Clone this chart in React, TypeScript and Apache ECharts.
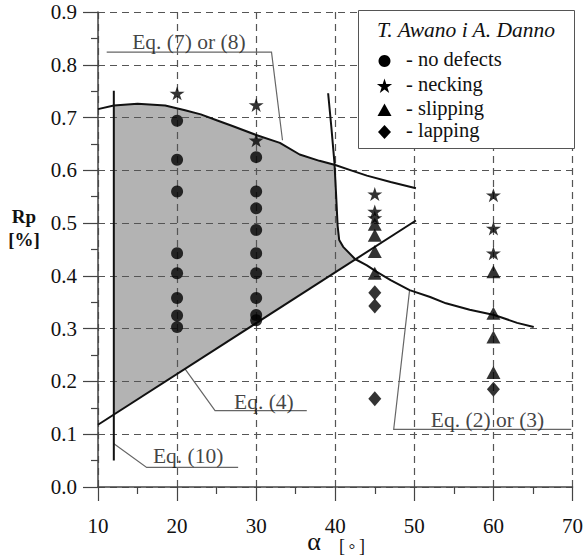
import React, { useEffect, useRef } from "react";
import * as echarts from "echarts";

// ---- data (alpha [deg], Rp [%]) ----
const noDefects: number[][] = [
  [20, 0.694], [20, 0.62], [20, 0.56], [20, 0.443], [20, 0.405], [20, 0.358], [20, 0.325], [20, 0.303],
  [30, 0.625], [30, 0.56], [30, 0.528], [30, 0.487], [30, 0.443], [30, 0.405], [30, 0.358], [30, 0.326], [30, 0.316],
];
const necking: number[][] = [
  [20, 0.746], [30, 0.724], [30, 0.657], [45, 0.555], [45, 0.522], [45, 0.51], [60, 0.553], [60, 0.49], [60, 0.443],
];
const slipping: number[][] = [
  [45, 0.498], [45, 0.477], [45, 0.446], [45, 0.405], [60, 0.408], [60, 0.329], [60, 0.284], [60, 0.217],
];
const lapping: number[][] = [[45, 0.368], [45, 0.343], [45, 0.167], [60, 0.185]];

// Eq. (7) or (8) limit curve
const eq78Alpha = [10, 12, 15, 18.5, 21, 23, 25, 27, 30, 33, 35.5, 38, 40, 42, 44, 47, 50.2];
const eq78Rp = [0.716, 0.723, 0.726, 0.723, 0.714, 0.706, 0.695, 0.684, 0.667, 0.652, 0.63, 0.618, 0.61, 0.6, 0.59, 0.578, 0.566];
// Eq. (2) or (3) limit curve
const eq23Alpha = [39.1, 39.5, 39.9, 40.1, 40.3, 40.5, 41.0, 42.5, 44, 45.2, 47, 49.4, 52, 54, 57, 60.1, 63, 65.1];
const eq23Rp = [0.746, 0.683, 0.614, 0.556, 0.495, 0.468, 0.455, 0.432, 0.42, 0.408, 0.392, 0.373, 0.36, 0.348, 0.336, 0.326, 0.311, 0.303];
// Eq. (4) straight line
const eq4Line: number[][] = [[10, 0.118], [50.2, 0.505]];
// Eq. (10) vertical line
const eq10Line: number[][] = [[12, 0.05], [12, 0.751]];
// shaded (no-defect) region boundary
const shadedRegion: number[][] = [
  [12, 0.137], [12, 0.723], [15, 0.726], [18.5, 0.723], [21, 0.714], [23, 0.706], [25, 0.695], [27, 0.684],
  [30, 0.667], [33, 0.652], [35.5, 0.63], [38, 0.618], [39.9, 0.612], [40.1, 0.556], [40.3, 0.495],
  [40.5, 0.468], [41.0, 0.455], [42.5, 0.432],
];
// annotation leaders and texts
const leaders: number[][][] = [
  [[11.1, 0.824], [31.94, 0.824], [33.33, 0.657]],
  [[36.4, 0.1446], [24.8, 0.1446], [21.0, 0.224]],
  [[27.72, 0.037], [16.15, 0.037], [11.93, 0.083]],
  [[69.83, 0.109], [47.39, 0.109], [49.4, 0.373]],
];
const annotations = [
  { name: "Eq. (7) or (8)", value: [21.49, 0.843] },
  { name: "Eq. (4)", value: [30.97, 0.161] },
  { name: "Eq. (10)", value: [21.4, 0.059] },
  { name: "Eq. (2) or (3)", value: [59.26, 0.127] },
];
const legendTitle = "T. Awano i A. Danno";
const legendLabels = ["- no defects", "- necking", "- slipping", "- lapping"];

const FONT = "Liberation Serif, DejaVu Serif, serif";
const STAR = "path://M50 0 L61.23 34.55 L97.55 34.55 L68.17 55.9 L79.39 90.45 L50 69.1 L20.61 90.45 L31.83 55.9 L2.45 34.55 L38.77 34.55 Z";

function starPoints(cx: number, cy: number, R: number): number[][] {
  const pts: number[][] = [];
  for (let i = 0; i < 10; i++) {
    const r = i % 2 === 0 ? R : R * 0.382;
    const a = -Math.PI / 2 + (i * Math.PI) / 5;
    pts.push([cx + r * Math.cos(a), cy + r * Math.sin(a)]);
  }
  return pts;
}

export default function App() {
  const ref = useRef<HTMLDivElement>(null);
  useEffect(() => {
    const chart = echarts.init(ref.current!, null, { renderer: "svg" });
    const zip = (a: number[], b: number[]) => a.map((x, i) => [x, b[i]]);
    const curve = (data: number[][]) => ({
      type: "line",
      data,
      showSymbol: false,
      symbol: "none",
      silent: true,
      z: 3,
      lineStyle: { color: "#111", width: 2 },
    });
    const txt = (size: number, extra: any = {}) => ({ fontFamily: FONT, fontSize: size, fill: "#111", ...extra });
    const legendX = 384.5;
    const rowsY = [61, 86, 110, 132];
    const legendGraphics: any[] = [
      { type: "rect", shape: { x: 358.5, y: 10.5, width: 216, height: 138 }, style: { fill: "#fff", stroke: "#555", lineWidth: 1 }, z: 10 },
      { type: "text", x: 377, y: 30, style: { text: legendTitle, ...txt(21.5, { fontStyle: "italic", verticalAlign: "middle" }) }, z: 11 },
      { type: "circle", shape: { cx: legendX, cy: rowsY[0], r: 6 }, style: { fill: "#000" }, z: 11 },
      { type: "polygon", shape: { points: starPoints(legendX, rowsY[1] + 0.5, 8) }, style: { fill: "#000" }, z: 11 },
      { type: "polygon", shape: { points: [[legendX, rowsY[2] - 6.5], [legendX + 7, rowsY[2] + 6], [legendX - 7, rowsY[2] + 6]] }, style: { fill: "#000" }, z: 11 },
      { type: "polygon", shape: { points: [[legendX, rowsY[3] - 7], [legendX + 6.5, rowsY[3]], [legendX, rowsY[3] + 7], [legendX - 6.5, rowsY[3]]] }, style: { fill: "#000" }, z: 11 },
    ];
    legendLabels.forEach((t, i) => {
      legendGraphics.push({
        type: "text", x: 406, y: rowsY[i] - 2,
        style: { text: t, ...txt(20.5, { verticalAlign: "middle" }) }, z: 11,
      });
    });
    const axisNameGraphics: any[] = [
      { type: "text", x: 24, y: 216, style: { text: "Rp", ...txt(19, { fontWeight: "bold", align: "center", verticalAlign: "middle" }) } },
      { type: "text", x: 24, y: 239, style: { text: "[%]", ...txt(19, { fontWeight: "bold", align: "center", verticalAlign: "middle" }) } },
      { type: "text", x: 314, y: 541, style: { text: "α", ...txt(26, { align: "center", verticalAlign: "middle", lineHeight: 22 }) } },
      { type: "text", x: 342, y: 546, style: { text: "[", ...txt(18, { align: "center", verticalAlign: "middle", lineHeight: 16 }) } },
      { type: "text", x: 352, y: 549, style: { text: "°", ...txt(16, { align: "center", verticalAlign: "middle", lineHeight: 12 }) } },
      { type: "text", x: 362, y: 546, style: { text: "]", ...txt(18, { align: "center", verticalAlign: "middle", lineHeight: 16 }) } },
    ];
    const option: any = {
      animation: false,
      backgroundColor: "#fff",
      textStyle: { fontFamily: FONT },
      grid: { left: 98, right: 13, top: 12, bottom: 72, containLabel: false },
      xAxis: {
        type: "value", min: 10, max: 70, interval: 10,
        axisLine: { show: true, onZero: false, lineStyle: { color: "#444", width: 1.5 } },
        axisTick: { show: true, inside: false, length: 14, lineStyle: { color: "#444", width: 1.2 } },
        minorTick: { show: true, splitNumber: 2, length: 7, lineStyle: { color: "#444", width: 1.2 } },
        axisLabel: { margin: 29, fontFamily: FONT, fontSize: 21, lineHeight: 19, color: "#111" },
        splitLine: { show: true, lineStyle: { color: "#555", type: [7, 5], width: 1.2 } },
      },
      yAxis: {
        type: "value", min: 0, max: 0.9, interval: 0.1,
        axisLine: { show: true, onZero: false, lineStyle: { color: "#444", width: 1.5 } },
        axisTick: { show: true, inside: false, length: 15, lineStyle: { color: "#444", width: 1.2 } },
        minorTick: { show: true, splitNumber: 2, length: 7, lineStyle: { color: "#444", width: 1.2 } },
        axisLabel: { margin: 21, fontFamily: FONT, fontSize: 21, color: "#111", formatter: (v: number) => v.toFixed(1) },
        splitLine: { show: true, lineStyle: { color: "#555", type: [7, 5], width: 1.2 } },
      },
      graphic: [...legendGraphics, ...axisNameGraphics],
      series: [
        {
          type: "custom",
          name: "shaded",
          coordinateSystem: "cartesian2d",
          silent: true,
          z: -1,
          data: [shadedRegion[0]],
          renderItem: (_params: any, api: any) => ({
            type: "polygon",
            shape: { points: shadedRegion.map((p) => api.coord(p)) },
            style: { fill: "#b3b3b3" },
          }),
        },
        curve(zip(eq78Alpha, eq78Rp)),
        curve(zip(eq23Alpha, eq23Rp)),
        curve(eq4Line),
        curve(eq10Line),
        {
          type: "lines",
          coordinateSystem: "cartesian2d",
          polyline: true,
          silent: true,
          z: 3,
          symbol: ["none", "arrow"],
          symbolSize: 7,
          lineStyle: { color: "#666", width: 1.2, opacity: 1 },
          data: leaders.map((c) => ({ coords: c })),
        },
        {
          type: "scatter",
          silent: true,
          symbolSize: 0,
          z: 4,
          data: annotations,
          label: {
            show: true, position: "inside", formatter: (p: any) => p.name,
            fontFamily: FONT, fontSize: 21.5, color: "#111",
          },
        },
        { type: "scatter", name: "no defects", symbol: "circle", symbolSize: 12, data: noDefects, itemStyle: { color: "#000" }, z: 5 },
        { type: "scatter", name: "necking", symbol: STAR, symbolSize: [15, 14], data: necking, itemStyle: { color: "#000" }, z: 5 },
        { type: "scatter", name: "slipping", symbol: "triangle", symbolSize: [14, 13], data: slipping, itemStyle: { color: "#000" }, z: 5 },
        { type: "scatter", name: "lapping", symbol: "diamond", symbolSize: [13, 15], data: lapping, itemStyle: { color: "#000" }, z: 5 },
      ],
    };
    chart.setOption(option);
    return () => chart.dispose();
  }, []);
  return (
    <div
      ref={ref}
      style={{ position: "fixed", left: 0, top: 0, width: 586, height: 559, background: "#fff" }}
    />
  );
}
